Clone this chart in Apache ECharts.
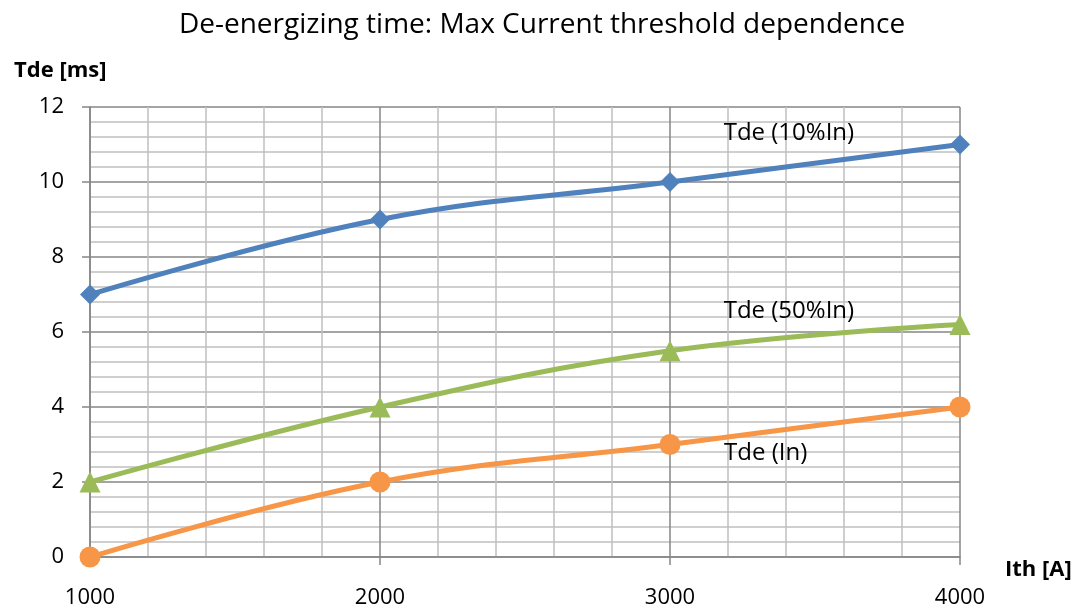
<!DOCTYPE html>
<html>
<head>
<meta charset="utf-8">
<script src="https://cdn.jsdelivr.net/npm/echarts@6/dist/echarts.min.js"></script>
<style>html,body{margin:0;padding:0;background:#fff}#c{width:1084px;height:614px}</style>
</head>
<body>
<div id="c"></div>
<script>
const xValues = [1000, 2000, 3000, 4000];
const tde10 = [7, 9, 10, 11];
const tde50 = [2, 4, 5.5, 6.2];
const tdeIn = [0, 2, 3, 4];
const seriesNames = ['Tde (10%In)', 'Tde (50%In)', 'Tde (In)'];
const labelPos = [[3410, 11.31], [3410, 6.56], [3330, 2.77]];
const titleText = 'De-energizing time: Max Current threshold dependence';
const xName = 'Ith [A]';
const yName = 'Tde [ms]';

const FONT = '"Open Sans", Lato, sans-serif';
const colors = ['#4F81BD', '#9BBB59', '#F79646'];
const symbols = ['diamond', 'triangle', 'circle'];
const sizes = [20, 21, 21];
const datas = [tde10, tde50, tdeIn];

const chart = echarts.init(document.getElementById('c'));
chart.setOption({
  animation: false,
  title: {
    text: titleText, left: 'center', top: 6,
    textStyle: { fontFamily: FONT, fontSize: 28, fontWeight: 'normal', color: '#000' }
  },
  graphic: [
    { type: 'text', left: 14, top: 60, style: { text: yName, font: 'bold 22px ' + FONT, fill: '#000' } },
    { type: 'text', left: 1005, top: 559, style: { text: xName, font: 'bold 22px ' + FONT, fill: '#000' } }
  ],
  grid: { left: 90, right: 124, top: 107, bottom: 57 },
  xAxis: {
    type: 'value', min: 1000, max: 4000, interval: 1000,
    axisLine: { show: true, lineStyle: { color: '#868686', width: 1.5 } },
    axisTick: { show: true, length: 8, lineStyle: { color: '#868686', width: 1.5 } },
    axisLabel: { fontFamily: FONT, fontSize: 22, color: '#000', margin: 30, formatter: v => String(v) },
    splitLine: { show: true, lineStyle: { color: '#868686', width: 1.5 } },
    minorTick: { show: false, splitNumber: 5 },
    minorSplitLine: { show: true, lineStyle: { color: '#c0c0c0', width: 1.5 } }
  },
  yAxis: {
    type: 'value', min: 0, max: 12, interval: 2,
    axisLine: { show: true, lineStyle: { color: '#868686', width: 1.5 } },
    axisTick: { show: true, length: 8, lineStyle: { color: '#868686', width: 1.5 } },
    axisLabel: { fontFamily: FONT, fontSize: 22, color: '#000', margin: 26 },
    splitLine: { show: true, lineStyle: { color: '#868686', width: 1.5 } },
    minorTick: { show: false, splitNumber: 5 },
    minorSplitLine: { show: true, lineStyle: { color: '#c0c0c0', width: 1.5 } }
  },
  series: datas.map((d, i) => ({
    name: seriesNames[i],
    type: 'line',
    smooth: 0.4,
    data: xValues.map((x, j) => [x, d[j]]),
    symbol: symbols[i],
    symbolSize: sizes[i],
    showAllSymbol: true,
    itemStyle: { color: colors[i] },
    lineStyle: { color: colors[i], width: 5 },
    z: 10 - i,
    markPoint: {
      symbol: 'circle', symbolSize: 0,
      data: [{ coord: labelPos[i], value: seriesNames[i] }],
      label: { show: true, position: 'inside', formatter: seriesNames[i], fontFamily: FONT, fontSize: 24, color: '#000' }
    }
  }))
});
</script>
</body>
</html>
